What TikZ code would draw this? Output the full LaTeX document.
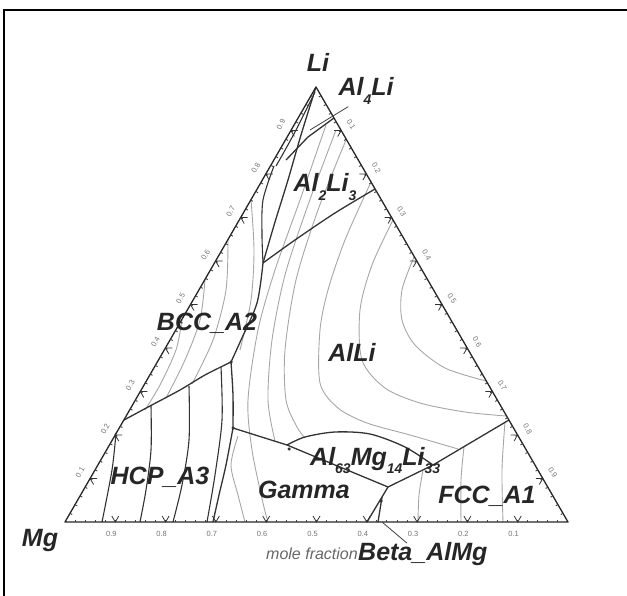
\documentclass[tikz,border=0pt]{standalone}
\usepackage{fontspec}
\setmainfont{Liberation Sans}
\usetikzlibrary{calc}

\newcommand\lsub[1]{\raisebox{-0.35em}{\fontsize{14}{14}\selectfont #1}}

\begin{document}
\begin{tikzpicture}[x=1pt,y=-1pt]
  % some styles
  \tikzset{
    phase/.style={draw=black!80, line width=1.3pt, line join=round},
    tieline/.style={draw=black!80, line width=1.1pt},
    contour/.style={draw=black!35, line width=0.9pt},
    triaxis/.style={draw=black!85, line width=1.3pt, line join=round},
    majortick/.style={draw=black!80, line width=0.8pt},
    minortick/.style={draw=black!75, line width=0.9pt},
    ticklabel/.style={text=black!55, font=\fontsize{7.5}{7.5}\selectfont, inner sep=0pt},
    phaselabel/.style={text=black!85, font=\fontsize{25}{25}\selectfont\bfseries\itshape, inner sep=0pt},
    leader/.style={draw=black!75, line width=0.8pt},
    junction/.style={circle, fill=black!80, inner sep=0pt, minimum size=3.5pt}
  }

  \useasboundingbox (0,0) rectangle (627,596);
  % frame
  \draw[line width=1.4pt] (4,596) -- (4,10) -- (627,10);

  % corners and points
  \coordinate (Li) at (316,87);
  \coordinate (Mg) at (65,522);
  \coordinate (Al) at (568,522);
  \coordinate (e1) at (375,189);
  \coordinate (e2) at (124,420);
  \coordinate (e3) at (509,420);
  \coordinate (e4) at (334,118);
  \coordinate (j1) at (263,263);
  \coordinate (j2) at (231,362);
  \coordinate (j3) at (233,428);
  \coordinate (j4) at (287,445);
  \coordinate (j5) at (433,465);
  \coordinate (j6) at (388,487);

  % grey lines, BCC
  \draw[contour] plot[smooth] coordinates {(251,200) (254,250) (251,300) (240,350)};
  \draw[contour] plot[smooth] coordinates {(228,240) (226,290) (213,340) (192,384)};
  \draw[contour] plot[smooth] coordinates {(205,280) (200,320) (185,360) (166,398)};
  \draw[contour] plot[smooth] coordinates {(182,320) (176,350) (160,385) (145,410)};
  % grey lines, AlLi
  \draw[contour] plot[smooth] coordinates {(326,125) (300,200) (275,270) (258,330) (248,400) (252,450) (263,503) (268,522)};
  \draw[contour] plot[smooth] coordinates {(336,130) (308,205) (285,275) (272,340) (268,400) (275,441)};
  \draw[contour] plot[smooth] coordinates {(346,140) (318,210) (296,280) (285,350) (286,400) (297,427) (305,438)};
  \draw[contour] plot[smooth] coordinates {(371,182) (345,240) (328,290) (320,330) (320,383) (338,408) (367,423) (410,435) (458,449)};
  \draw[contour] plot[smooth] coordinates {(393,220) (372,265) (360,310) (362,360) (385,388) (420,403) (465,412) (506,416)};
  \draw[contour] plot[smooth] coordinates {(414,257) (402,290) (402,320) (415,345) (445,368) (486,381)};
  % grey lines, Gamma and FCC
  \draw[contour] plot[smooth] coordinates {(238,436) (231,465) (238,495) (245,522)};
  \draw[contour] plot[smooth] coordinates {(423,470) (419,495) (418,522)};
  \draw[contour] plot[smooth] coordinates {(464,447) (461,480) (461,522)};
  \draw[contour] plot[smooth] coordinates {(505,422) (502,470) (503,522)};

  % HCP tie lines
  \draw[tieline] plot[smooth] coordinates {(116,433) (112,470) (102,522)};
  \draw[tieline] plot[smooth] coordinates {(151,406) (151,450) (146,490) (140,522)};
  \draw[tieline] plot[smooth] coordinates {(189,386) (189,440) (182,485) (173,522)};
  \draw[tieline] plot[smooth] coordinates {(221,367) (222,420) (215,475) (207,522)};

  % phase boundaries
  \draw[phase] plot[smooth] coordinates {(Li) (301,135) (288,180) (275,222) (j1)};
  \draw[tieline] plot[smooth] coordinates {(315,92) (296,130) (284,152) (276,166)};
  \draw[phase] (e4) -- (308,137) -- (286,160);
  \draw[tieline] plot[smooth] coordinates {(274,166) (263,200) (262,235) (j1)};
  \draw[phase] plot[smooth] coordinates {(e1) (335,213) (295,240) (j1)};
  \draw[phase] plot[smooth] coordinates {(j1) (257,303) (241,340) (j2)};
  \draw[phase] plot[smooth] coordinates {(j2) (205,375) (180,390) (150,406) (e2)};
  \draw[phase] plot[smooth] coordinates {(j2) (233,395) (j3)};
  \draw[phase] plot[smooth] coordinates {(j3) (226,465) (219,495) (213,522)};
  \draw[phase] (j3) -- (j4) -- (j6);
  \draw[phase] plot[smooth] coordinates {(j4) (305,437) (335,432) (370,434) (405,447) (j5)};
  \draw[phase] (e3) -- (j5) -- (j6);
  \draw[phase] (j6) -- (367,522);
  \draw[phase] (382,497) -- (378,522);

  \node[junction] (p1) at (j2) {};
  \node[junction] (p2) at (j3) {};
  \node[junction] (p3) at (289,449) {};
  \node[junction] (p4) at (381,501) {};

  % triangle and ticks
  \draw[triaxis] (Mg) -- (Al) -- (Li) -- cycle;
  \foreach \k in {1,...,49} {
    \draw[minortick] ($(Mg)!\k/50!(Al)$) -- ++(0,-2.5);
    \draw[minortick] ($(Mg)!\k/50!(Li)$) -- ++(2.2,1.25);
    \draw[minortick] ($(Li)!\k/50!(Al)$) -- ++(-2.2,1.25);
  }
  \foreach \k in {1,...,9} {
    \draw[majortick] ($(Mg)!\k/10!(Al)$) ++(-3.5,-6) -- ++(3.5,6) -- ++(3.5,-6);
    \draw[majortick] ($(Mg)!\k/10!(Li)$) ++(7,0) -- ++(-7,0) -- ++(3.5,6);
    \draw[majortick] ($(Li)!\k/10!(Al)$) ++(-7,0) -- ++(7,0) -- ++(-3.5,6);
    \node[ticklabel, rotate=60] (lx\k) at ($(Mg)!\k/10!(Li)+(-10,-6)$) {0.\k};
    \node[ticklabel, rotate=-60] (rx\k) at ($(Li)!\k/10!(Al)+(10,-6)$) {0.\k};
  }
  \foreach \k/\t in {1/0.9,2/0.8,3/0.7,4/0.6,5/0.5,6/0.4,7/0.3,8/0.2,9/0.1}
    \node[ticklabel] (bx\k) at ($(Mg)!\k/10!(Al)+(-4,12)$) {\t};

  % labels
  \node[phaselabel] (li) at (318,62) {Li};
  \node[phaselabel] (mg) at (40,540) {Mg};
  \node[phaselabel] (al4li) at (366,91) {Al\lsub{4}Li};
  \node[phaselabel] (al2li3) at (325,187) {Al\lsub{2}Li\lsub{3}};
  \node[phaselabel] (bcc) at (207,323) {BCC\_A2};
  \node[phaselabel] (alli) at (352,352) {AlLi};
  \node[phaselabel] (hcp) at (160,477) {HCP\_A3};
  \node[phaselabel] (gamma) at (304,490) {Gamma};
  \node[phaselabel, anchor=base west] (al63) at (310,465) {Al\lsub{63}Mg\lsub{14}Li\lsub{33}};
  \node[phaselabel] (fcc) at (487,496) {FCC\_A1};
  \node[phaselabel, anchor=west] (beta) at (358,554) {Beta\_AlMg};
  \node[text=black!60, font=\fontsize{16}{16}\selectfont\itshape, inner sep=0pt, anchor=east] (molefrac) at (beta.west) {mole fraction};

  % leaders
  \coordinate (al4lipt) at (310,130);
  \coordinate (betapt) at (382,522);
  \draw[leader] ($(al4li.south west)+(10,2)$) -- (al4lipt);
  \draw[leader] (betapt) -- ($(beta.north west)+(49,1)$);

\end{tikzpicture}
\end{document}
